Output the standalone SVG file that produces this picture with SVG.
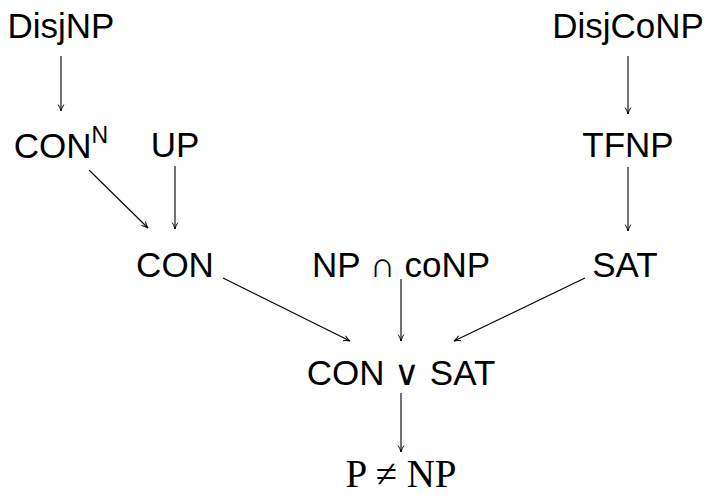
<svg xmlns="http://www.w3.org/2000/svg" width="704" height="500" viewBox="0 0 704 500">
<style>
.t{font-family:"Liberation Sans",Arial,sans-serif;font-size:35px;fill:#000;text-anchor:middle}
.s{font-family:"Liberation Serif","Times New Roman",serif;font-size:39px;fill:#000;text-anchor:middle}
.op{font-family:"DejaVu Sans",sans-serif;font-weight:200}
.e{stroke:#000;stroke-width:1.1;fill:none;marker-end:url(#a)}
</style>
<defs>
<marker id="a" viewBox="0 0 10 10" refX="9" refY="5" markerWidth="8" markerHeight="8" markerUnits="userSpaceOnUse" orient="auto">
<path d="M1,1.5 Q5,4 9,5 Q5,6 1,8.5" fill="none" stroke="#000" stroke-width="1.2"/>
</marker>
</defs>
<g id="connectors">
<line class="e" x1="61" y1="56" x2="61" y2="111"/>
<line class="e" x1="628" y1="56" x2="628" y2="114"/>
<line class="e" x1="628" y1="167" x2="628" y2="231"/>
<line class="e" x1="175" y1="166" x2="175" y2="229"/>
<line class="e" x1="89" y1="170" x2="148" y2="228"/>
<line class="e" x1="223" y1="278" x2="350" y2="341"/>
<line class="e" x1="401" y1="279" x2="401" y2="341"/>
<line class="e" x1="585" y1="278" x2="454" y2="341"/>
<line class="e" x1="401" y1="393" x2="401" y2="452"/>
</g>
<g id="DisjNP"><text class="t" x="61" y="38">DisjNP</text></g>
<g id="DisjCoNP"><text class="t" x="628" y="38">DisjCoNP</text></g>
<g id="CONN"><text class="t" x="61" y="158">CON<tspan font-size="23" dy="-15">N</tspan></text></g>
<g id="UP"><text class="t" x="175" y="157">UP</text></g>
<g id="TFNP"><text class="t" x="628" y="157">TFNP</text></g>
<g id="CON"><text class="t" x="175" y="277">CON</text></g>
<g id="NPcoNP"><text class="t" x="401" y="277">NP <tspan class="op">∩</tspan> coNP</text></g>
<g id="SAT"><text class="t" x="625" y="277">SAT</text></g>
<g id="CONSAT"><text class="t" x="401" y="385">CON <tspan class="op">∨</tspan> SAT</text></g>
<g id="PNP"><text class="s" x="401" y="487">P ≠ NP</text></g>
</svg>
